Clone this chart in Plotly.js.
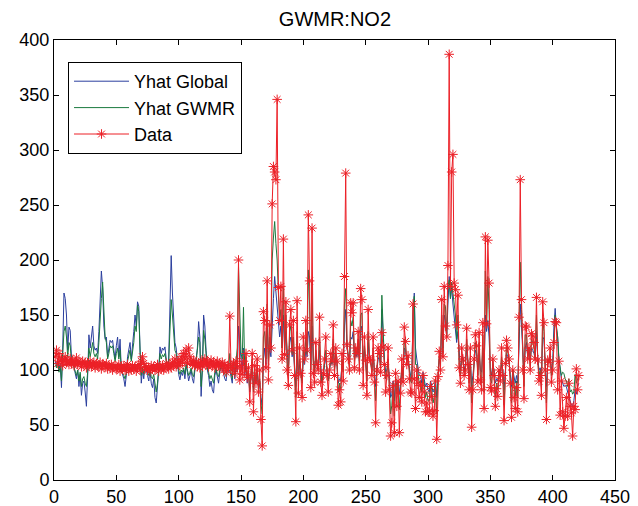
<!DOCTYPE html>
<html>
<head>
<meta charset="utf-8">
<script src="https://cdn.plot.ly/plotly-3.0.1.min.js"></script>
<style>html,body{margin:0;padding:0;background:#fff;}#chart{width:638px;height:506px;}</style>
</head>
<body>
<div id="chart"></div>
<script>
const titleText = "GWMR:NO2";
const seriesNames = ["Yhat Global", "Yhat GWMR", "Data"];
const xTicks = [0, 50, 100, 150, 200, 250, 300, 350, 400, 450];
const yTicks = [0, 50, 100, 150, 200, 250, 300, 350, 400];

const yhatGlobal = [
108,104,110,100,106,84,120,170,165,150,
118,139,136,112,108,104,97,92,100,85,
96,77,88,90,80,67,95,132,120,128,
140,122,118,120,115,135,160,190,175,140,
128,130,112,118,127,125,127,118,110,122,
130,112,128,100,96,92,85,95,112,118,
125,110,120,135,150,140,162,158,120,88,
100,92,105,98,95,90,100,88,84,92,
75,70,82,100,121,115,120,118,121,112,
100,110,150,204,170,141,125,120,105,96,
91,98,95,100,92,105,98,90,95,100,
92,88,100,110,120,144,130,76,100,150,
140,118,100,95,85,90,82,79,95,100,
92,88,98,105,100,97,92,90,100,98,
100,95,88,110,92,105,98,140,120,110,
100,120,95,105,88,98,80,92,105,82,
95,88,100,82,90,75,68,110,120,105,
140,110,120,112,150,165,185,170,160,140,
130,140,120,150,118,135,110,100,125,130,
112,120,100,85,118,92,105,100,90,110,
105,120,112,135,130,105,140,110,100,112,
105,100,118,100,90,96,105,112,100,92,
100,108,105,120,102,110,106,88,92,90,
105,100,140,155,120,112,105,130,128,135,
110,115,112,120,108,135,140,105,118,108,
95,125,110,108,100,115,100,85,100,110,
112,105,155,130,110,98,100,105,95,75,
78,90,72,92,85,90,78,88,100,95,
120,118,108,110,100,95,92,150,170,120,
110,100,95,95,88,98,92,85,88,82,
80,90,86,80,82,92,75,95,110,108,
140,120,150,145,130,160,185,165,175,160,
150,140,125,135,110,100,108,112,100,105,
120,108,95,108,85,95,105,118,115,100,
115,100,98,120,100,150,135,145,130,100,
95,105,100,88,92,90,100,95,105,100,
82,102,115,112,108,96,85,100,92,88,
95,88,120,160,140,112,95,120,125,112,
118,108,120,118,115,110,135,112,100,102,
95,130,128,105,85,105,108,112,100,105,
140,156,138,130,110,100,92,88,85,86,
85,80,76,72,68,67,72,82,78,85,
88
];

const yhatGWMR = [
105,102,108,98,104,90,115,135,140,130,
112,125,122,108,106,102,98,95,100,90,
98,85,92,94,88,85,98,120,112,118,
125,115,112,115,110,125,150,165,180,157,
130,125,110,115,122,120,122,115,108,115,
120,110,118,100,98,95,92,97,108,112,
118,108,115,125,140,135,159,153,118,95,
102,96,104,100,98,95,101,94,92,96,
85,80,88,102,115,110,114,112,115,108,
102,108,135,164,150,130,118,115,105,100,
96,100,98,102,96,105,100,95,98,102,
96,94,102,108,118,130,125,85,100,136,
128,115,102,98,92,95,90,88,98,102,
96,94,100,105,102,100,96,95,102,100,
115,98,92,110,95,108,120,194,140,115,
110,157,100,112,92,100,82,95,110,80,
98,90,102,85,92,70,60,130,135,110,
160,105,130,118,200,220,235,215,200,170,
145,155,120,175,118,150,108,95,135,140,
115,130,100,75,135,90,110,100,88,118,
108,130,115,191,160,100,180,108,98,118,
105,100,130,98,88,95,106,118,100,90,
100,110,106,128,100,115,108,80,88,82,
110,98,160,174,125,112,102,145,140,148,
108,118,114,128,105,150,152,100,122,108,
90,135,112,108,98,120,98,72,100,115,
114,102,168,128,108,92,98,110,90,60,
68,88,58,94,78,88,64,84,104,92,
128,122,106,112,98,90,88,155,167,105,
105,95,88,90,80,96,88,75,80,72,
72,88,82,70,75,92,60,95,112,105,
150,115,160,158,130,175,182,165,180,170,
160,150,128,150,105,95,112,110,98,102,
128,105,88,112,70,88,108,125,118,95,
125,96,88,132,80,190,140,185,155,92,
88,108,98,75,88,82,100,92,112,98,
68,104,122,116,110,92,70,100,84,76,
90,75,135,198,155,105,85,132,132,110,
120,104,128,125,120,110,150,110,95,100,
85,148,135,102,70,108,108,115,95,102,
132,150,140,130,110,100,95,98,97,92,
90,85,92,80,82,78,80,96,88,92,
94
];

const dataNO2 = [
112,118,106,115,108,110,104,109,112,107,
108,105,110,106,109,104,107,111,105,108,
106,103,108,105,107,102,106,104,108,103,
105,107,102,106,104,103,107,101,105,104,
103,106,101,104,102,105,100,103,104,101,
102,105,99,103,101,104,100,102,105,99,
102,100,104,101,103,99,102,105,100,108,
112,106,101,103,100,102,99,104,101,103,
100,102,105,99,103,101,104,100,102,106,
103,101,105,102,107,104,110,103,106,108,
104,112,107,115,110,118,106,120,112,108,
105,109,104,107,103,106,102,108,104,107,
110,105,108,103,106,109,104,107,102,105,
108,104,106,103,107,100,105,98,104,102,
149,104,100,106,97,108,102,200,91,104,
96,108,99,115,93,102,71,95,115,62,
104,88,110,80,100,55,31,153,145,102,
181,91,141,120,251,285,280,273,346,175,
145,176,110,219,114,162,100,86,141,155,
118,145,95,53,163,79,120,97,75,130,
110,145,118,241,181,84,229,97,89,125,
105,100,148,89,77,97,110,130,95,80,
100,115,108,141,95,120,108,68,82,71,
115,90,185,279,123,110,100,161,152,161,
102,120,115,135,100,174,164,86,130,109,
77,155,111,109,95,130,89,52,100,120,
115,98,134,121,105,80,95,120,82,40,
52,86,43,97,67,90,43,79,110,89,
139,126,105,113,92,80,79,160,92,65,
100,88,75,86,71,95,80,62,70,62,
62,85,76,58,63,90,37,94,117,100,
164,112,176,140,130,195,387,176,280,296,
179,173,141,168,102,88,120,110,95,100,
138,105,82,120,48,82,110,132,122,89,
134,91,82,143,65,221,142,218,179,84,
81,110,95,67,83,76,100,90,120,95,
54,106,127,120,110,88,57,100,75,65,
84,62,148,273,164,100,74,140,139,110,
120,100,133,131,125,110,166,109,90,95,
77,162,143,100,55,109,107,120,89,100,
125,144,143,82,108,59,90,62,47,58,
75,58,88,67,61,40,67,64,101,82,
95
];

const idx = arr => arr.map((_, i) => i + 1);
const FONT = "Liberation Sans, Arial, Helvetica, sans-serif";

const traces = [
  {x: idx(yhatGlobal), y: yhatGlobal, name: seriesNames[0], type: "scatter", mode: "lines",
   line: {color: "#2b3f9e", width: 1}},
  {x: idx(yhatGWMR), y: yhatGWMR, name: seriesNames[1], type: "scatter", mode: "lines",
   line: {color: "#1a7a3e", width: 1}},
  {x: idx(dataNO2), y: dataNO2, name: seriesNames[2], type: "scatter", mode: "lines+markers",
   line: {color: "#ec2027", width: 1},
   marker: {symbol: "asterisk-open", size: 8, color: "#ec2027", line: {color: "#ec2027", width: 1}}}
];

const axisCommon = {
  showgrid: false, zeroline: false, showline: true, linecolor: "#000", linewidth: 1,
  mirror: "ticks", ticks: "inside", ticklen: 5, tickcolor: "#000",
  tickfont: {family: FONT, size: 18, color: "#000"}
};

const layout = {
  width: 638, height: 506,
  margin: {l: 54, r: 23, t: 40, b: 26},
  paper_bgcolor: "#fff", plot_bgcolor: "#fff",
  title: {text: titleText, x: 0.525, xanchor: "center", y: 0.963, yanchor: "middle",
          font: {family: FONT, size: 20, color: "#000"}},
  xaxis: Object.assign({}, axisCommon, {range: [0, 450], tickvals: xTicks, ticktext: xTicks.map(String)}),
  yaxis: Object.assign({}, axisCommon, {range: [0, 400], tickvals: yTicks, ticktext: yTicks.map(String)}),
  showlegend: true,
  legend: {x: 0.025, y: 0.95, xanchor: "left", yanchor: "top", bgcolor: "#fff",
           bordercolor: "#000", borderwidth: 1, itemwidth: 55,
           font: {family: FONT, size: 18, color: "#000"}, tracegroupgap: 0}
};

Plotly.newPlot("chart", traces, layout, {displayModeBar: false, staticPlot: true});
</script>
</body>
</html>
